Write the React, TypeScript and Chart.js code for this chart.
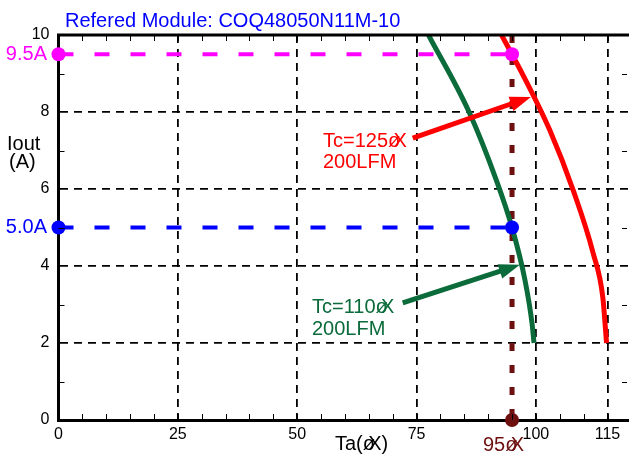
import React, { useEffect, useRef } from "react";
import { Chart, registerables } from "chart.js";
Chart.register(...registerables);

const titleText = "Refered Module: COQ48050N11M-10";
const xTicks = [0, 25, 50, 75, 100, 115];
const yTicks = [0, 2, 4, 6, 8, 10];

const redX = [92.8, 97.3, 102.9, 107.8, 112.0, 114.0, 114.8];
const redY = [10, 8.96, 7.53, 5.97, 4.33, 3.2, 2.0];

const greenX = [77.5, 86.0, 91.8, 95.0, 97.7, 99.2, 99.6];
const greenY = [10, 8.0, 6.2, 5.0, 3.64, 2.5, 2.0];

const magentaX = [0, 95];
const magentaY = [9.5, 9.5];
const blueX = [0, 95];
const blueY = [5, 5];
const brownX = [95, 95];
const brownY = [10, 0];

const redArrowX = [74.2, 98.95];
const redArrowY = [7.32, 8.39];
const greenArrowX = [72.1, 96.65];
const greenArrowY = [3.04, 4.03];

const redLabel = ["Tc=125øX", "200LFM"];
const greenLabel = ["Tc=110øX", "200LFM"];
const xTitle = "Ta(øX)";
const yTitle = ["Iout", "(A)"];
const markerLabel95 = "95øX";
const label95A = "9.5A";
const label50A = "5.0A";

const FONT = "'Liberation Sans', Arial, Helvetica, sans-serif";
const RED = "#ff0000";
const GREEN = "#0b6b3a";
const MAGENTA = "#ff00ff";
const BLUE = "#0000ff";
const BROWN = "#6e1010";

const zip = (xs: number[], ys: number[]) => xs.map((x, i) => ({ x, y: ys[i] }));

function drawMoji(ctx: CanvasRenderingContext2D, text: string, x: number, y: number) {
  const idx = text.indexOf("øX");
  if (idx < 0) {
    ctx.fillText(text, x, y);
    return;
  }
  const pre = text.slice(0, idx);
  const post = text.slice(idx + 2);
  ctx.fillText(pre, x, y);
  let p = x + ctx.measureText(pre).width;
  const wo = ctx.measureText("ø").width;
  ctx.fillText("ø", p, y);
  const px = p + wo * 0.45;
  ctx.fillText("X", px, y);
  p = px + ctx.measureText("X").width;
  if (post) ctx.fillText(post, p, y);
}

function arrow(ctx: CanvasRenderingContext2D, x1: number, y1: number, x2: number, y2: number, color: string) {
  const ang = Math.atan2(y2 - y1, x2 - x1);
  const hl = 21, hw = 7.5;
  const bx = x2 - hl * Math.cos(ang);
  const by = y2 - hl * Math.sin(ang);
  ctx.save();
  ctx.strokeStyle = color;
  ctx.fillStyle = color;
  ctx.lineWidth = 5;
  ctx.beginPath();
  ctx.moveTo(x1, y1);
  ctx.lineTo(bx + 2 * Math.cos(ang), by + 2 * Math.sin(ang));
  ctx.stroke();
  ctx.beginPath();
  ctx.moveTo(x2, y2);
  ctx.lineTo(bx + hw * Math.sin(ang), by - hw * Math.cos(ang));
  ctx.lineTo(bx - hw * Math.sin(ang), by + hw * Math.cos(ang));
  ctx.closePath();
  ctx.fill();
  ctx.restore();
}

const decorPlugin = {
  id: "decor",
  afterDatasetsDraw(chart: any) {
    const { ctx, chartArea, scales } = chart;
    const xs = scales.x, ys = scales.y;
    ctx.save();
    ctx.strokeStyle = "#000";
    ctx.lineWidth = 3;
    ctx.beginPath();
    ctx.moveTo(chartArea.left - 1.5, chartArea.top);
    ctx.lineTo(chartArea.right, chartArea.top);
    ctx.stroke();
    ctx.lineWidth = 1;
    ctx.beginPath();
    for (let v = 5; v < xs.max; v += 5) {
      const px = Math.round(xs.getPixelForValue(v)) + 0.5;
      ctx.moveTo(px, chartArea.bottom);
      ctx.lineTo(px, chartArea.bottom - 6);
      ctx.moveTo(px, chartArea.top);
      ctx.lineTo(px, chartArea.top + 6);
    }
    for (let v = 1; v < 10; v += 2) {
      const py = Math.round(ys.getPixelForValue(v)) + 0.5;
      ctx.moveTo(chartArea.left, py);
      ctx.lineTo(chartArea.left + 6, py);
      ctx.moveTo(chartArea.right - 2, py);
      ctx.lineTo(chartArea.right - 7, py);
    }
    ctx.stroke();

    arrow(ctx, xs.getPixelForValue(redArrowX[0]), ys.getPixelForValue(redArrowY[0]),
      xs.getPixelForValue(redArrowX[1]), ys.getPixelForValue(redArrowY[1]), RED);
    arrow(ctx, xs.getPixelForValue(greenArrowX[0]), ys.getPixelForValue(greenArrowY[0]),
      xs.getPixelForValue(greenArrowX[1]), ys.getPixelForValue(greenArrowY[1]), GREEN);

    ctx.textBaseline = "alphabetic";
    ctx.textAlign = "left";
    ctx.font = `20px ${FONT}`;
    ctx.fillStyle = BLUE;
    ctx.fillText(titleText, 65, 27);

    ctx.fillStyle = RED;
    drawMoji(ctx, redLabel[0], 323, 147);
    ctx.fillText(redLabel[1], 323, 168);
    ctx.fillStyle = GREEN;
    drawMoji(ctx, greenLabel[0], 312, 313);
    ctx.fillText(greenLabel[1], 312, 335);

    ctx.fillStyle = "#000";
    drawMoji(ctx, xTitle, 335, 450);
    ctx.fillText(yTitle[0], 7, 150);
    ctx.fillText(yTitle[1], 9, 168);

    ctx.fillStyle = BROWN;
    drawMoji(ctx, markerLabel95, 483, 451);

    ctx.textAlign = "right";
    ctx.textBaseline = "middle";
    ctx.fillStyle = MAGENTA;
    ctx.fillText(label95A, 47, ys.getPixelForValue(9.5));
    ctx.fillStyle = BLUE;
    ctx.fillText(label50A, 47, ys.getPixelForValue(5));
    ctx.restore();
  },
};

export default function App() {
  const ref = useRef<HTMLCanvasElement | null>(null);
  useEffect(() => {
    document.body.style.margin = "0";
    const canvas = ref.current!;
    const chart = new Chart(canvas, {
      type: "scatter",
      data: {
        datasets: [
          {
            data: zip(magentaX, magentaY),
            showLine: true,
            borderColor: MAGENTA,
            backgroundColor: MAGENTA,
            borderWidth: 4,
            borderDash: [15, 21],
            pointRadius: 7,
            pointBorderWidth: 0,
            clip: false,
          } as any,
          {
            data: zip(blueX, blueY),
            showLine: true,
            borderColor: BLUE,
            backgroundColor: BLUE,
            borderWidth: 4,
            borderDash: [15, 21],
            pointRadius: 7,
            pointBorderWidth: 0,
            clip: false,
          },
          {
            data: zip(redX, redY),
            showLine: true,
            borderColor: RED,
            borderWidth: 5,
            pointRadius: 0,
            cubicInterpolationMode: "monotone",
          },
          {
            data: zip(greenX, greenY),
            showLine: true,
            borderColor: GREEN,
            borderWidth: 5,
            pointRadius: 0,
            cubicInterpolationMode: "monotone",
          },
          {
            data: zip(brownX, brownY),
            showLine: true,
            borderColor: BROWN,
            backgroundColor: BROWN,
            borderWidth: 5,
            borderDash: [8, 14],
            pointRadius: [0, 7],
            pointBorderWidth: 0,
            clip: false,
          },
        ],
      },
      options: {
        animation: false,
        responsive: false,
        devicePixelRatio: 1,
        layout: { autoPadding: false, padding: { top: 35, right: 0, left: 0, bottom: 0 } },
        plugins: { legend: { display: false }, tooltip: { enabled: false }, title: { display: false } },
        scales: {
          x: {
            type: "linear",
            min: 0,
            max: 119.5,
            afterBuildTicks: (s: any) => {
              s.ticks = xTicks.map((v) => ({ value: v }));
            },
            afterFit: (s: any) => {
              s.height = 34;
              s.paddingLeft = 0;
              s.paddingRight = 0;
            },
            ticks: {
              autoSkip: false,
              maxRotation: 0,
              color: "#000",
              padding: 5,
              font: { family: FONT, size: 16 },
            },
            grid: {
              drawTicks: false,
              color: (c: any) => (c.tick && c.tick.value === 0 ? "rgba(0,0,0,0)" : "#000"),
              lineWidth: 1.8,
            },
            border: { display: true, color: "#000", width: 3, dash: [8, 6] },
          },
          y: {
            type: "linear",
            min: 0,
            max: 10,
            afterBuildTicks: (s: any) => {
              s.ticks = yTicks.map((v) => ({ value: v }));
            },
            afterFit: (s: any) => {
              s.width = 58.5;
              s.paddingTop = 0;
              s.paddingBottom = 0;
            },
            ticks: {
              color: "#000",
              padding: 9,
              font: { family: FONT, size: 16 },
            },
            grid: {
              drawTicks: false,
              color: (c: any) =>
                c.tick && (c.tick.value === 0 || c.tick.value === 10) ? "rgba(0,0,0,0)" : "#000",
              lineWidth: 1.8,
            },
            border: { display: true, color: "#000", width: 3, dash: [8, 6] },
          },
        },
      },
      plugins: [decorPlugin],
    });
    return () => chart.destroy();
  }, []);
  return (
    <div style={{ width: 629, height: 454, background: "#fff" }}>
      <canvas ref={ref} width={629} height={454} style={{ display: "block" }} />
    </div>
  );
}
